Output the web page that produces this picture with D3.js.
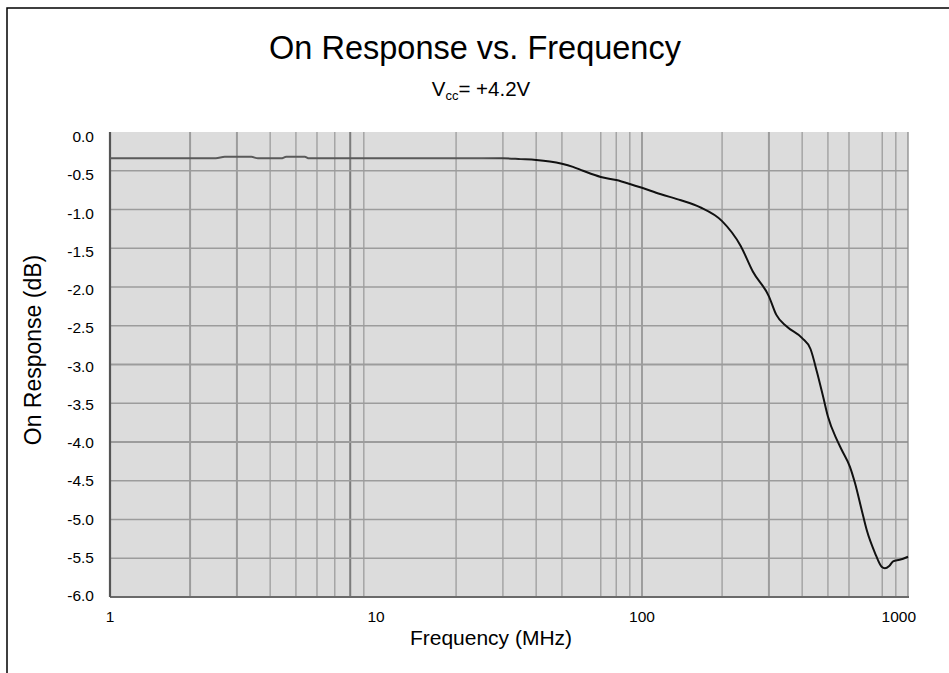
<!DOCTYPE html>
<html>
<head>
<meta charset="utf-8">
<script src="https://cdn.jsdelivr.net/npm/d3@7"></script>
<style>
  body { margin: 0; background: #fff; }
  text { font-family: 'Liberation Sans', Arial, sans-serif; fill: #000; }
</style>
</head>
<body>
<div id="chart"></div>
<script>
// curve: frequency (MHz) and response (dB)
const freq = [1, 2.5, 2.7, 3.4, 3.6, 4.4, 4.6, 5.4, 5.6, 10, 20, 30, 35, 40, 45, 50, 55, 60, 70, 80, 90, 100,
              117, 140, 165, 200, 235, 261, 300, 320, 350, 400, 430, 455, 480, 500, 540, 563, 605, 632,
              670, 700, 751, 796, 819, 850, 879, 930, 1000]
const response = [-0.34, -0.34, -0.32, -0.32, -0.34, -0.34, -0.32, -0.32, -0.34, -0.34, -0.34, -0.34, -0.35, -0.36, -0.38, -0.41, -0.45, -0.5, -0.58, -0.62, -0.67, -0.72,
                  -0.8, -0.88, -0.97, -1.15, -1.47, -1.8, -2.12, -2.36, -2.51, -2.66, -2.8, -3.1, -3.42, -3.67, -3.97, -4.1, -4.32, -4.53,
                  -4.88, -5.14, -5.43, -5.61, -5.63, -5.6, -5.54, -5.52, -5.48]

const xTicks = [1, 10, 100, 1000]
const xGrid = [2, 3, 4, 5, 6, 7, 8, 9, 20, 30, 40, 50, 70, 80, 90, 100, 200, 300, 400, 500, 600, 800, 900]
const yTicks = [0, -0.5, -1, -1.5, -2, -2.5, -3, -3.5, -4, -4.5, -5, -5.5, -6]

const w = 949
const h = 673
const plotL = 110, plotR = 908, plotT = 132, plotB = 597

const xScale = d3.scaleLog().domain([1, 1000]).range([plotL, plotR])
const yScale = d3.scaleLinear().domain([-6, 0]).range([plotB, plotT])

const svg = d3.select('#chart')
              .append('svg')
              .attr('width', w)
              .attr('height', h)

// outer frame (cut off on right and bottom)
svg.append('rect')
    .attr('x', 7).attr('y', 8)
    .attr('width', 960).attr('height', 700)
    .attr('fill', 'none')
    .attr('stroke', '#000')
    .attr('stroke-width', 1.5)

svg.append('rect')
    .attr('x', plotL).attr('y', plotT)
    .attr('width', plotR - plotL).attr('height', plotB - plotT)
    .attr('fill', '#dcdcdc')

// heavier grid lines, as in the picture
const heavyX = v => v === 3 || v === 8 || v === 300 || v === 2
const heavyY = v => v === -3 || v === -4

svg.selectAll('.vgrid')
    .data(xGrid)
    .enter()
    .append('line')
    .attr('class', 'vgrid')
    .attr('x1', d => xScale(d)).attr('x2', d => xScale(d))
    .attr('y1', plotT).attr('y2', plotB)
    .attr('stroke', d => d === 100 || d === 8 ? '#7c7c7c' : '#9c9c9c')
    .attr('stroke-width', d => heavyX(d) ? 2 : 1.3)

svg.selectAll('.hgrid')
    .data(yTicks.filter(v => v !== 0 && v !== -6))
    .enter()
    .append('line')
    .attr('class', 'hgrid')
    .attr('x1', plotL).attr('x2', plotR)
    .attr('y1', d => yScale(d)).attr('y2', d => yScale(d))
    .attr('stroke', '#9c9c9c')
    .attr('stroke-width', d => heavyY(d) ? 2 : 1.3)

// right edge and axes
svg.append('line')
    .attr('x1', plotR).attr('x2', plotR).attr('y1', plotT).attr('y2', plotB)
    .attr('stroke', '#8a8a8a').attr('stroke-width', 1.3)
svg.append('line')
    .attr('x1', plotL).attr('x2', plotR + 1).attr('y1', plotB).attr('y2', plotB)
    .attr('stroke', '#6a6a6a').attr('stroke-width', 2)
svg.append('line')
    .attr('x1', plotL).attr('x2', plotL).attr('y1', plotT).attr('y2', plotB)
    .attr('stroke', '#555').attr('stroke-width', 2.2)

const data = freq.map((f, i) => ({ f: f, v: response[i] }))

// the flat part of the trace looks grey in the picture, black from ~30 MHz on
const grad = svg.append('defs').append('linearGradient')
    .attr('id', 'trace')
    .attr('gradientUnits', 'userSpaceOnUse')
    .attr('x1', plotL).attr('x2', plotR).attr('y1', 0).attr('y2', 0)
const gStop = f => (xScale(f) - plotL) / (plotR - plotL)
grad.append('stop').attr('offset', 0).attr('stop-color', '#5a5a5a')
grad.append('stop').attr('offset', gStop(25)).attr('stop-color', '#5a5a5a')
grad.append('stop').attr('offset', gStop(40)).attr('stop-color', '#111')
grad.append('stop').attr('offset', 1).attr('stop-color', '#111')

const line = d3.line()
               .x(d => xScale(d.f))
               .y(d => yScale(d.v))
               .curve(d3.curveMonotoneX)

svg.append('path')
    .datum(data)
    .attr('d', line)
    .attr('fill', 'none')
    .attr('stroke', 'url(#trace)')
    .attr('stroke-width', 2)

// tick labels
svg.selectAll('.ylab')
    .data(yTicks)
    .enter()
    .append('text')
    .attr('class', 'ylab')
    .attr('x', 94)
    .attr('y', (d, i) => yScale(d) + 10 - i * 0.5)
    .attr('text-anchor', 'end')
    .style('font-size', '15.5px')
    .text(d => d.toFixed(1))

svg.selectAll('.xlab')
    .data(xTicks)
    .enter()
    .append('text')
    .attr('class', 'xlab')
    .attr('x', d => d === 1000 ? xScale(d) + 8 : xScale(d))
    .attr('y', 622)
    .attr('text-anchor', d => d === 1000 ? 'end' : 'middle')
    .style('font-size', '15.5px')
    .text(d => d)

// titles
svg.append('text')
    .attr('x', 475).attr('y', 59)
    .attr('text-anchor', 'middle')
    .style('font-size', '32.5px')
    .text('On Response vs. Frequency')

const sub = svg.append('text')
    .attr('x', 481).attr('y', 96)
    .attr('text-anchor', 'middle')
    .style('font-size', '20.5px')
sub.append('tspan').text('V')
sub.append('tspan').attr('dy', 4).style('font-size', '13px').text('cc')
sub.append('tspan').attr('dy', -4).text('= +4.2V')

svg.append('text')
    .attr('x', 491).attr('y', 645)
    .attr('text-anchor', 'middle')
    .style('font-size', '21px')
    .text('Frequency (MHz)')

svg.append('text')
    .attr('transform', 'translate(41, 350) rotate(-90)')
    .attr('text-anchor', 'middle')
    .style('font-size', '23px')
    .text('On Response (dB)')
</script>
</body>
</html>
